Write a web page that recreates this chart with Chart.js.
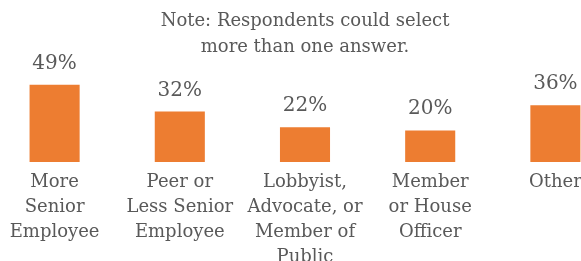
<!DOCTYPE html>
<html>
<head>
<meta charset="utf-8">
<script src="https://cdn.jsdelivr.net/npm/chart.js@4.4.0/dist/chart.umd.min.js"></script>
<style>
  html, body { margin: 0; padding: 0; background: #fff; overflow: hidden; }
  #wrap { position: absolute; left: -8px; top: 0; width: 626px; height: 275px; }
</style>
</head>
<body>
<div id="wrap"><canvas id="chart" width="626" height="275"></canvas></div>
<script>
// categories and values
const categories = [
  ["More", "Senior", "Employee"],
  ["Peer or", "Less Senior", "Employee"],
  ["Lobbyist,", "Advocate, or", "Member of", "Public"],
  ["Member", "or House", "Officer"],
  ["Other"]
];
const shares = [49, 32, 22, 20, 36];
const noteLines = ["Note: Respondents could select", "more than one answer."];

const textColor = "#595959";
const barColor = "#ED7D31";
const serif = "'DejaVu Serif', serif";

// percentage labels above each bar
const valueLabels = {
  id: "valueLabels",
  afterDatasetsDraw(chart) {
    const ctx = chart.ctx;
    const meta = chart.getDatasetMeta(0);
    ctx.save();
    ctx.font = "20px " + serif;
    ctx.fillStyle = textColor;
    ctx.textAlign = "center";
    ctx.textBaseline = "alphabetic";
    meta.data.forEach((bar, i) => {
      ctx.fillText(shares[i] + "%", bar.x, bar.y - 16);
    });
    ctx.restore();
  }
};

const config = {
  type: "bar",
  data: {
    labels: categories,
    datasets: [
      {
        data: shares,
        backgroundColor: barColor,
        categoryPercentage: 1,
        barPercentage: 0.4
      }
    ]
  },
  options: {
    responsive: false,
    animation: false,
    layout: { padding: 0 },
    plugins: {
      legend: { display: false },
      tooltip: { enabled: false },
      title: {
        display: true,
        text: noteLines,
        color: textColor,
        font: { family: serif, size: 18, weight: "normal", lineHeight: 1.45 },
        padding: { top: 8, bottom: 4 }
      }
    },
    scales: {
      x: {
        grid: { display: false },
        border: { display: false },
        afterFit: (scale) => { scale.height = 113; },
        ticks: {
          color: textColor,
          font: { family: serif, size: 18, lineHeight: 1.38 },
          maxRotation: 0,
          autoSkip: false,
          padding: 0
        }
      },
      y: {
        display: false,
        min: 0,
        max: 62
      }
    }
  },
  plugins: [valueLabels]
};

new Chart(document.getElementById("chart"), config);
</script>
</body>
</html>
